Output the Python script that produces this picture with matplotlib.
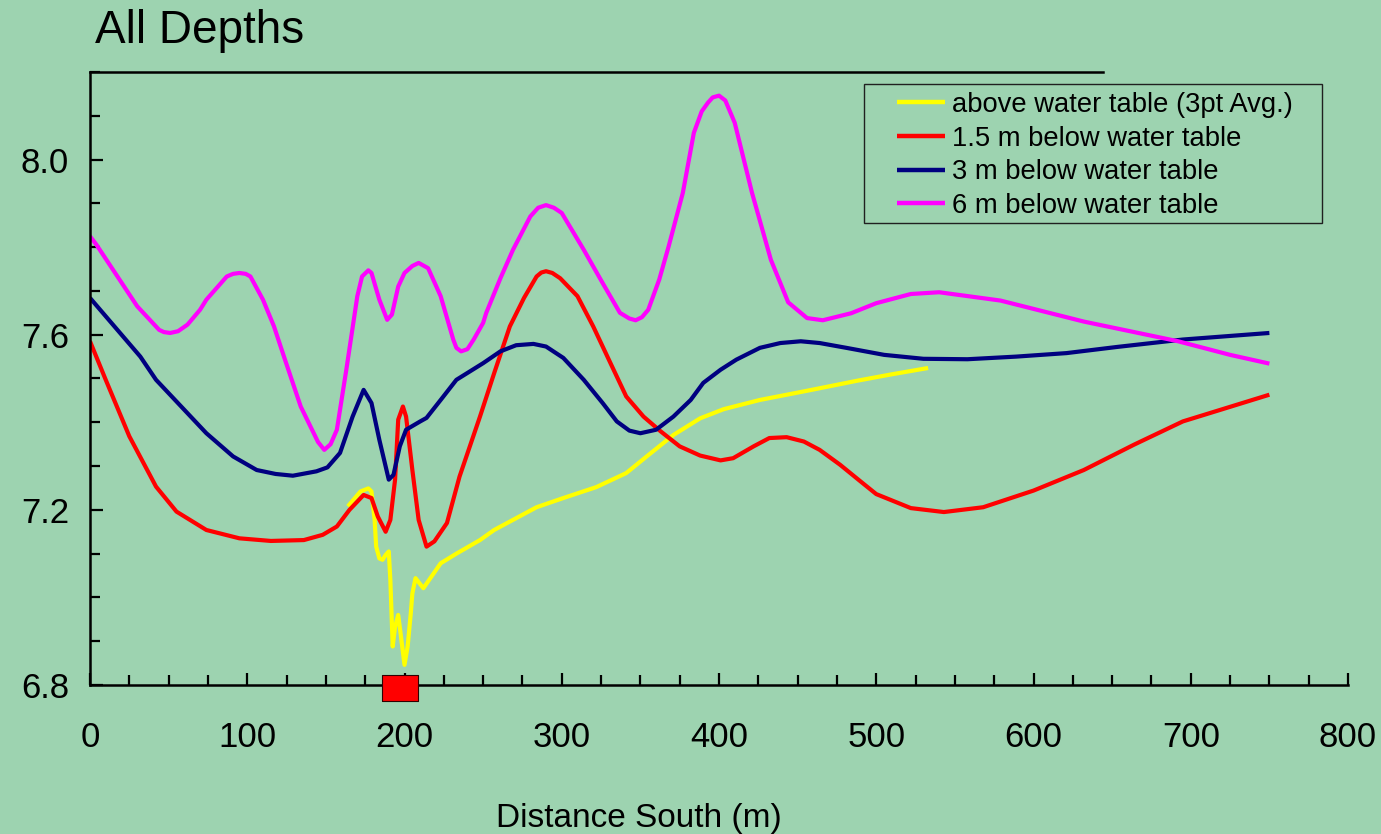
import matplotlib
matplotlib.use("Agg")
import matplotlib.pyplot as plt
from matplotlib.patches import Rectangle
from matplotlib.ticker import MultipleLocator, FormatStrFormatter

plt.rcParams['font.family'] = ['Liberation Sans', 'DejaVu Sans']

# above water table (3pt avg)
x_above = [164, 172, 177, 179, 181, 182, 184, 186, 188, 190,
           191, 192.5, 194, 196, 197.5, 200, 202, 204, 205, 207,
           212, 223, 233, 248, 257, 284, 301, 322, 341, 354,
           371, 388, 403, 426, 456, 488, 509, 533]
y_above = [7.208, 7.242, 7.249, 7.242, 7.177, 7.116, 7.089, 7.086, 7.097, 7.105,
           7.040, 6.888, 6.933, 6.960, 6.918, 6.846, 6.888, 6.964, 7.009, 7.044,
           7.021, 7.078, 7.100, 7.131, 7.154, 7.206, 7.227, 7.252, 7.284, 7.322,
           7.371, 7.409, 7.430, 7.451, 7.472, 7.495, 7.509, 7.524]

# 1.5 m below water table
x_15 = [0, 10, 25, 42, 55, 74, 95, 115, 136, 148,
        157, 165, 174, 179, 183, 188, 191, 194, 196, 199,
        201, 205, 209, 214, 219, 227, 235, 248, 257, 267,
        276, 284, 287, 290, 294, 299, 310, 320, 331, 341, 352, 363,
        375, 388, 401, 409, 422, 432, 443, 454, 464, 477,
        490, 500, 522, 543, 568, 600, 632, 664, 695, 750]
y_15 = [7.585, 7.497, 7.368, 7.253, 7.196, 7.154, 7.135, 7.129, 7.131, 7.143,
        7.162, 7.200, 7.234, 7.227, 7.185, 7.150, 7.177, 7.269, 7.406, 7.436,
        7.413, 7.291, 7.177, 7.116, 7.128, 7.170, 7.276, 7.413, 7.512, 7.619,
        7.684, 7.733, 7.742, 7.745, 7.741, 7.729, 7.688, 7.619, 7.535, 7.459, 7.413, 7.379,
        7.345, 7.324, 7.313, 7.318, 7.345, 7.364, 7.366, 7.356, 7.337, 7.303,
        7.265, 7.236, 7.204, 7.195, 7.206, 7.244, 7.291, 7.349, 7.402, 7.463]

# 3 m below water table
x_3 = [0, 32, 42, 74, 91, 106, 118, 129, 144, 151, 159,
       167, 174, 179, 184, 190, 193, 197, 201, 210, 214,
       223, 233, 250, 261, 271, 282, 290, 301, 314, 326,
       335, 343, 350, 360, 371, 382, 390, 401, 411, 426,
       439, 452, 464, 481, 505, 530, 558, 589, 621, 653,
       695, 750]
y_3 = [7.684, 7.550, 7.497, 7.375, 7.322, 7.291, 7.282, 7.278, 7.288, 7.297, 7.330,
       7.413, 7.474, 7.444, 7.360, 7.269, 7.280, 7.345, 7.383, 7.402, 7.410,
       7.451, 7.497, 7.535, 7.562, 7.576, 7.579, 7.573, 7.547, 7.497, 7.444,
       7.402, 7.381, 7.375, 7.383, 7.413, 7.451, 7.490, 7.520, 7.543, 7.570,
       7.581, 7.585, 7.581, 7.570, 7.554, 7.545, 7.544, 7.550, 7.558, 7.572,
       7.589, 7.604]

# 6 m below water table
x_6 = [0, 4, 30, 44, 47, 51, 56, 62, 70, 74, 87, 91, 95, 99,
       102, 110, 117, 124, 134, 145, 149, 153, 157, 163,
       170, 173, 177, 179, 184, 189, 192, 196, 200, 205, 209,
       215, 223, 231, 233, 236, 240, 244, 250, 252, 261, 269, 280, 285,
       290, 295, 300, 314, 326, 337, 343, 347, 351, 355, 362, 368, 377,
       384, 389, 393, 396, 400, 404, 410, 421, 433, 444, 456, 466, 484,
       500, 522, 540, 579, 632, 692, 725, 750]
y_6 = [7.825, 7.806, 7.665, 7.611, 7.606, 7.604, 7.608, 7.623, 7.657, 7.680, 7.733, 7.739, 7.741, 7.739,
       7.733, 7.680, 7.619, 7.543, 7.436, 7.355, 7.337, 7.350, 7.383, 7.520,
       7.688, 7.733, 7.747, 7.741, 7.680, 7.634, 7.646, 7.710, 7.741, 7.757, 7.764,
       7.752, 7.688, 7.589, 7.570, 7.562, 7.567, 7.589, 7.627, 7.650, 7.729, 7.794, 7.870, 7.890,
       7.896, 7.890, 7.878, 7.794, 7.718, 7.650, 7.637, 7.633, 7.640, 7.657, 7.726, 7.802, 7.924,
       8.061, 8.110, 8.130, 8.142, 8.146, 8.135, 8.084, 7.924, 7.771, 7.674, 7.638, 7.633, 7.649,
       7.672, 7.693, 7.697, 7.678, 7.630, 7.585, 7.554, 7.534]

site_x = 197
site_y = 6.793

bg = '#9DD3B0'
W, H = 1381, 834
fig = plt.figure(figsize=(W / 100, H / 100), dpi=100, facecolor=bg)
ax = fig.add_axes([90 / W, 1 - 685 / H, 1258 / W, 613 / H])
ax.set_facecolor(bg)

lw = 3.0
kw = dict(lw=lw, solid_joinstyle='round', solid_capstyle='butt')
ax.plot(x_above, y_above, color='#FFFF00', label='above water table (3pt Avg.)', **kw)
ax.plot(x_15, y_15, color='#FF0000', label='1.5 m below water table', **kw)
ax.plot(x_3, y_3, color='#000080', label='3 m below water table', **kw)
ax.plot(x_6, y_6, color='#FF00FF', label='6 m below water table', **kw)

# site marker (red rectangle on the axis)
rect_marker = [(-1, -0.72), (1, -0.72), (1, 0.72), (-1, 0.72), (-1, -0.72)]
ax.plot([site_x], [site_y], marker=rect_marker, markersize=26, color='#FF0000',
        markeredgecolor='#300000', markeredgewidth=0.8, clip_on=False, zorder=10,
        linestyle='none')

ax.set_xlim(0, 800)
ax.set_ylim(6.8, 8.2)
ax.xaxis.set_major_locator(MultipleLocator(100))
ax.xaxis.set_minor_locator(MultipleLocator(25))
ax.yaxis.set_major_locator(MultipleLocator(0.4))
ax.yaxis.set_minor_locator(MultipleLocator(0.1))
ax.yaxis.set_major_formatter(FormatStrFormatter('%.1f'))

ax.tick_params(axis='both', which='both', direction='in', color='black', width=1.6)
ax.tick_params(axis='x', which='major', length=9, labelsize=25, pad=26)
ax.tick_params(axis='x', which='minor', length=7)
ax.tick_params(axis='y', which='major', length=9, labelsize=25, pad=15)
ax.tick_params(axis='y', which='minor', length=7)

ax.spines['right'].set_visible(False)
for s in ['left', 'bottom', 'top']:
    ax.spines[s].set_linewidth(1.8)
    ax.spines[s].set_color('black')
ax.spines['top'].set_bounds(0, 644)

fig.text(95 / W, 1 - 43 / H, 'All Depths', fontsize=33, ha='left', va='baseline')
fig.text(639 / W, 1 - 827 / H, 'Distance South (m)', fontsize=24, ha='center', va='baseline')

leg = fig.legend(loc='upper left', bbox_to_anchor=(897 / W, 1 - 92 / H),
                 frameon=False, fontsize=19.7, handlelength=1.75, handletextpad=0.26,
                 labelspacing=0.28, borderpad=0, borderaxespad=0)
for line in leg.get_lines():
    line.set_linewidth(3.2)
fig.patches.append(Rectangle((864 / W, 1 - 223 / H), (1322 - 864) / W, (223 - 84) / H,
                             transform=fig.transFigure, fill=False, edgecolor='#202020',
                             lw=1.0))

fig.savefig('out.png', dpi=100, facecolor=bg)
